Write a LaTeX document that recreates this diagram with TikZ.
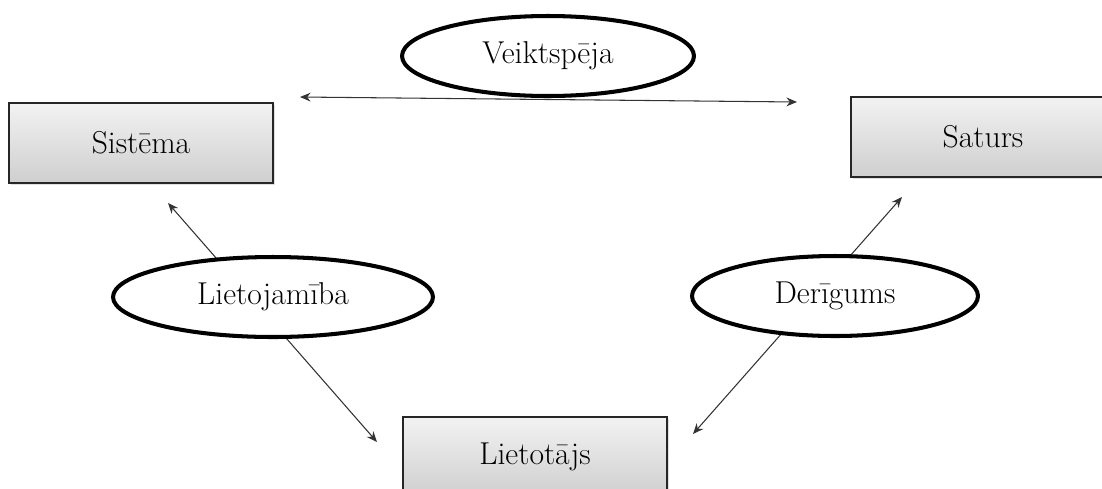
\documentclass[tikz,border=0pt]{standalone}
\usepackage{tikz}
\usetikzlibrary{shadows}
\usetikzlibrary{shapes.geometric}
\usetikzlibrary{arrows.meta}
\newcommand{\lbl}{\fontsize{18}{21}\selectfont}

\tikzset{
    box/.style={draw=black!85, line width=0.9pt, rectangle, top color=gray!10, bottom color=gray!38,
        minimum width=5.28cm, minimum height=1.6cm, font=\lbl,
        drop shadow={shadow xshift=1.2pt, shadow yshift=-1.2pt, opacity=0.25}},
    oval/.style={draw, line width=2.3pt, ellipse, fill=white, minimum height=1.6cm, font=\lbl},
    link/.style={line width=0.6pt, draw=black!80, {Stealth[length=6pt,width=5pt]}-{Stealth[length=6pt,width=5pt]}}
}

\begin{document}
\begin{tikzpicture}[x=0.02cm, y=-0.02cm]
    \useasboundingbox (0,0) rectangle (1102,488);
    \clip (0,0) rectangle (1102,488);

    \node[box] (sistema) at (141,143) {Sistēma};
    \node[box] (saturs) at (983,137) {Saturs};
    \node[box] (lietotajs) at (535,457) {Lietotājs};

    % arrow ends
    \coordinate (vl) at (300,97);
    \coordinate (vr) at (797,102);
    \coordinate (ll) at (168,203);
    \coordinate (lr) at (377,442);
    \coordinate (dl) at (693,434);
    \coordinate (dr) at (902,197);

    \draw[link] (vl) -- (vr);
    \draw[link] (ll) -- (lr);
    \draw[link] (dl) -- (dr);

    \node[oval, minimum width=5.84cm] (veiktspeja) at (548,56) {Veiktspēja};
    \node[oval, minimum width=6.4cm] (lietojamiba) at (273,297) {Lietojamība};
    \node[oval, minimum width=5.72cm] (derigums) at (835,296) {Derīgums};
\end{tikzpicture}
\end{document}
